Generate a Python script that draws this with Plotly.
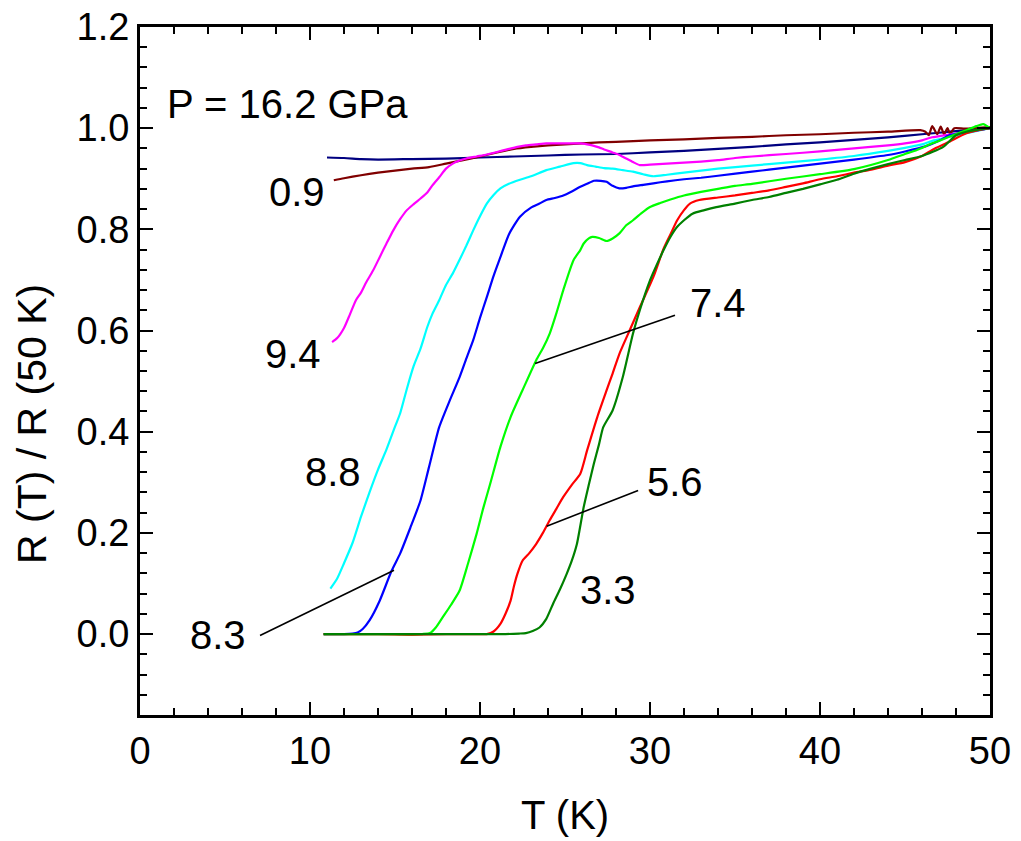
import plotly.graph_objects as go

# Normalised resistance R(T)/R(50 K) at P = 16.2 GPa for several magnetic fields (T)

# unlabelled reference curve (navy)
t_navy = [11.0, 12, 13, 14, 16, 18, 20, 22, 24, 26, 28, 30, 32, 34, 36, 38, 40, 42, 44, 46, 47, 48, 49, 50]
r_navy = [0.942, 0.941, 0.939, 0.938, 0.939, 0.940, 0.942, 0.944, 0.946, 0.948, 0.949, 0.952, 0.955,
          0.959, 0.963, 0.968, 0.972, 0.977, 0.982, 0.988, 0.991, 0.994, 0.997, 1.0]

t_09 = [11.4, 12, 13, 14, 15, 16, 17, 18, 19, 20, 21, 22, 23, 24, 25, 26, 27, 28, 30, 32, 34, 36, 38,
        40, 42, 44, 45.9, 46.2, 46.4, 46.6, 46.9, 47.1, 47.3, 47.5, 47.65, 47.9, 48.5, 49, 49.5, 50]
r_09 = [0.897, 0.901, 0.907, 0.912, 0.916, 0.920, 0.923, 0.930, 0.937, 0.944, 0.952, 0.959, 0.963,
        0.966, 0.968, 0.970, 0.972, 0.973, 0.976, 0.978, 0.981, 0.983, 0.986, 0.988, 0.991, 0.993,
        0.996, 0.993, 0.986, 1.004, 0.988, 1.003, 0.988, 1.000, 0.989, 1.000, 0.999, 1.0, 1.001, 1.002]

t_94 = [11.3, 11.6, 12.0, 12.35, 12.7, 13.0, 13.3, 13.7, 14.1, 14.5, 14.9, 15.3, 15.7, 16.1, 16.5,
        16.9, 17.2, 17.6, 18.0, 18.4, 18.8, 19.2, 19.8, 20.4, 21.0, 21.6, 22.2, 22.7, 23.3, 23.9,
        24.5, 25.2, 25.9, 26.3, 26.6, 27.0, 27.3, 27.8, 28.2, 28.6, 29.0, 29.4, 30.0, 31.0, 32.0,
        33.0, 34.0, 35.0, 36.0, 38.0, 40.0, 42.0, 44.0, 45.0, 46.0, 46.6, 47.5, 48.5, 49.3, 50.0]
r_94 = [0.577, 0.585, 0.605, 0.632, 0.660, 0.675, 0.695, 0.718, 0.745, 0.772, 0.798, 0.820, 0.838,
        0.850, 0.861, 0.873, 0.887, 0.903, 0.920, 0.930, 0.936, 0.940, 0.944, 0.948, 0.953, 0.958,
        0.963, 0.966, 0.968, 0.970, 0.970, 0.970, 0.970, 0.968, 0.966, 0.962, 0.958, 0.952, 0.947,
        0.940, 0.933, 0.927, 0.928, 0.930, 0.932, 0.934, 0.937, 0.941, 0.944, 0.949, 0.954, 0.960,
        0.966, 0.970, 0.976, 0.982, 0.987, 0.992, 0.996, 1.0]

t_88 = [11.2, 11.6, 12.0, 12.5, 13.0, 13.5, 14.0, 14.5, 15.0, 15.3, 15.7, 16.1, 16.5, 16.9, 17.2,
        17.6, 18.0, 18.4, 18.8, 19.2, 19.6, 20.0, 20.4, 20.8, 21.2, 21.7, 22.35, 23.0, 23.9, 24.7,
        25.5, 25.9, 26.3, 26.8, 27.3, 27.8, 28.4, 29.0, 29.6, 30.2, 31.0, 32.0, 33.0, 34.0, 36.0,
        38.0, 40.0, 42.0, 44.0, 45.0, 46.0, 46.7, 47.5, 48.5, 49.3, 50.0]
r_88 = [0.090, 0.110, 0.140, 0.180, 0.232, 0.280, 0.325, 0.365, 0.410, 0.436, 0.485, 0.530, 0.564,
        0.607, 0.633, 0.660, 0.690, 0.713, 0.740, 0.768, 0.798, 0.826, 0.851, 0.868, 0.881, 0.890,
        0.898, 0.905, 0.917, 0.924, 0.931, 0.931, 0.927, 0.924, 0.921, 0.920, 0.917, 0.914, 0.909,
        0.905, 0.908, 0.912, 0.916, 0.920, 0.926, 0.932, 0.938, 0.945, 0.955, 0.961, 0.968, 0.976,
        0.982, 0.989, 0.995, 1.0]

t_83 = [10.8, 11.5, 12.0, 12.5, 12.8, 13.1, 13.5, 14.1, 14.8, 15.3, 15.9, 16.5, 17.0, 17.6, 18.2,
        18.8, 19.2, 19.6, 20.0, 20.4, 20.8, 21.2, 21.7, 22.35, 23.0, 23.5, 23.9, 24.4, 24.9, 25.4,
        25.9, 26.3, 26.7, 27.1, 27.45, 27.8, 28.2, 28.6, 29.0, 29.6, 30.2, 31.0, 32.0, 33.0, 34.0,
        36.0, 38.0, 40.0, 42.0, 44.0, 45.0, 46.2, 47.0, 47.6, 48.5, 49.3, 50.0]
r_83 = [0.0, 0.0, 0.0, 0.001, 0.003, 0.010, 0.027, 0.066, 0.125, 0.159, 0.210, 0.264, 0.330, 0.409,
        0.460, 0.508, 0.545, 0.581, 0.625, 0.666, 0.708, 0.745, 0.790, 0.825, 0.843, 0.851, 0.858,
        0.862, 0.867, 0.875, 0.884, 0.890, 0.896, 0.896, 0.894, 0.886, 0.881, 0.882, 0.885, 0.888,
        0.891, 0.895, 0.899, 0.902, 0.906, 0.914, 0.922, 0.930, 0.938, 0.947, 0.954, 0.964, 0.975,
        0.986, 0.991, 0.996, 1.0]

t_74 = [10.8, 12, 13, 14, 15, 16, 16.6, 17.06, 17.4, 17.8, 18.3, 18.8, 19.3, 19.8, 20.2, 20.6, 21.2,
        21.8, 22.5, 23.3, 23.7, 24.1, 24.5, 24.9, 25.5, 25.9, 26.1, 26.4, 26.6, 27.0, 27.45, 27.8,
        28.2, 28.6, 29.0, 29.5, 30.0, 30.6, 31.2, 32.0, 33.0, 34.0, 35.0, 36.0, 38.0, 40.0, 42.0,
        44.0, 45.0, 45.7, 46.6, 47.6, 48.6, 49.2, 49.6, 50.0]
r_74 = [0.0, 0.0, 0.0, 0.0, 0.0, -0.001, 0.0, 0.002, 0.013, 0.033, 0.058, 0.086, 0.140, 0.198, 0.250,
        0.297, 0.370, 0.429, 0.482, 0.541, 0.565, 0.594, 0.635, 0.680, 0.739, 0.759, 0.772, 0.782,
        0.785, 0.783, 0.777, 0.782, 0.792, 0.808, 0.818, 0.832, 0.844, 0.852, 0.859, 0.867, 0.874,
        0.880, 0.886, 0.890, 0.900, 0.909, 0.919, 0.937, 0.949, 0.957, 0.970, 0.983, 0.996, 1.004,
        1.008, 1.0]

t_56 = [10.8, 12, 14, 16, 18, 19.5, 20.4, 20.8, 21.2, 21.5, 21.8, 22.0, 22.2, 22.5, 22.9, 23.3,
        23.7, 24.1, 24.5, 24.9, 25.4, 25.9, 26.3, 26.9, 27.45, 27.8, 28.2, 28.8, 29.4, 30.2, 30.8,
        31.2, 31.6, 32.0, 32.35, 32.9, 34.0, 35.0, 36.0, 37.0, 38.0, 39.0, 40.0, 41.0, 42.0, 43.0,
        44.0, 45.0, 46.0, 46.6, 47.6, 48.6, 49.3, 50.0]
r_56 = [0.0, 0.0, 0.0, -0.001, 0.0, 0.0, 0.0, 0.005, 0.020, 0.040, 0.066, 0.095, 0.119, 0.145,
        0.160, 0.178, 0.200, 0.225, 0.248, 0.271, 0.295, 0.317, 0.363, 0.429, 0.482, 0.515, 0.554,
        0.600, 0.646, 0.706, 0.762, 0.790, 0.818, 0.838, 0.851, 0.858, 0.863, 0.867, 0.872, 0.877,
        0.884, 0.891, 0.899, 0.905, 0.912, 0.918, 0.926, 0.933, 0.945, 0.957, 0.973, 0.990, 0.996, 1.0]

t_33 = [10.8, 12, 14, 16, 18, 20, 21.5, 22.3, 22.7, 23.1, 23.5, 23.9, 24.3, 24.7, 25.1, 25.4, 25.7,
        26.1, 26.4, 26.7, 27.0, 27.25, 27.8, 28.4, 29.0, 29.4, 30.0, 30.4, 30.8, 31.2, 31.6, 32.0,
        32.5, 33.2, 33.9, 35.0, 36.0, 37.0, 38.0, 39.0, 40.0, 41.0, 42.0, 43.0, 44.0, 45.0, 46.0,
        47.25, 48.0, 48.6, 49.3, 50.0]
r_33 = [0.0, 0.0, 0.0, 0.0, 0.0, 0.0, 0.0, 0.001, 0.002, 0.006, 0.013, 0.030, 0.060, 0.088, 0.119,
        0.145, 0.178, 0.251, 0.295, 0.337, 0.375, 0.409, 0.442, 0.508, 0.594, 0.640, 0.699, 0.730,
        0.759, 0.785, 0.805, 0.818, 0.831, 0.838, 0.844, 0.851, 0.858, 0.864, 0.872, 0.880, 0.889,
        0.898, 0.910, 0.920, 0.929, 0.937, 0.945, 0.963, 0.986, 0.993, 0.997, 1.0]

curves = [
    (t_navy, r_navy, "#000080"),
    (t_09, r_09, "#800000"),
    (t_94, r_94, "#ff00ff"),
    (t_88, r_88, "#00ffff"),
    (t_83, r_83, "#0000ff"),
    (t_74, r_74, "#00ff00"),
    (t_56, r_56, "#ff0000"),
    (t_33, r_33, "#008000"),
]

# field labels and their positions (T, R) in data units
label_text = ["0.9", "9.4", "8.8", "8.3", "7.4", "5.6", "3.3"]
label_t = [9.24, 9.0, 11.35, 4.59, 34.0, 31.47, 27.53]
label_r = [0.873, 0.553, 0.320, -0.001, 0.654, 0.300, 0.088]

# leader lines from a label to its curve: (T0, R0, T1, R1)
leaders = [
    (7.06, -0.003, 14.94, 0.126),
    (31.47, 0.630, 23.24, 0.535),
    (29.3, 0.284, 23.92, 0.213),
]

FONT = "Liberation Sans, Arial, sans-serif"

fig = go.Figure()
for t, r, c in curves:
    fig.add_trace(go.Scatter(x=t, y=r, mode="lines", line=dict(color=c, width=2.2, shape="spline",
                                                                 smoothing=0.6),
                             showlegend=False, hoverinfo="skip"))

for txt, lt, lr in zip(label_text, label_t, label_r):
    fig.add_annotation(x=lt, y=lr, text=txt, showarrow=False, xref="x", yref="y",
                       font=dict(family=FONT, size=40, color="black"))

fig.add_annotation(x=8.7, y=1.048, text="P = 16.2 GPa", showarrow=False, xref="x", yref="y",
                   font=dict(family=FONT, size=40, color="black"))

for t0, r0, t1, r1 in leaders:
    fig.add_shape(type="line", x0=t0, y0=r0, x1=t1, y1=r1, xref="x", yref="y",
                  line=dict(color="black", width=1.6))

# axis titles
fig.add_annotation(x=0.5, y=-0.145, xref="paper", yref="paper", text="T (K)", showarrow=False,
                   xanchor="center", yanchor="middle",
                   font=dict(family=FONT, size=40, color="black"))
fig.add_annotation(x=-0.127, y=0.423, xref="paper", yref="paper", text="R (T) / R (50 K)",
                   showarrow=False, textangle=-90, xanchor="center", yanchor="middle",
                   font=dict(family=FONT, size=41, color="black"))

axis_common = dict(showline=True, linecolor="black", linewidth=3, mirror="ticks",
                   ticks="inside", tickwidth=2, tickcolor="black", showgrid=False, zeroline=False,
                   automargin=False,
                   tickfont=dict(family=FONT, size=38, color="black"))

fig.update_xaxes(range=[0, 50], dtick=10, tick0=0, ticklen=13,
                 minor=dict(dtick=2, tick0=0, ticklen=7, ticks="inside", tickwidth=2,
                            tickcolor="black", showgrid=False),
                 **axis_common)
fig.update_yaxes(range=[-0.16, 1.2], dtick=0.2, tick0=0, ticklen=13, tickformat=".1f",
                 minor=dict(dtick=0.04, tick0=0, ticklen=7, ticks="inside", tickwidth=2,
                            tickcolor="black", showgrid=False),
                 **axis_common)

fig.update_layout(width=1021, height=841, autosize=False,
                  margin=dict(l=140, r=31, t=27, b=126),
                  plot_bgcolor="white", paper_bgcolor="white")

fig.write_html("out.html")
